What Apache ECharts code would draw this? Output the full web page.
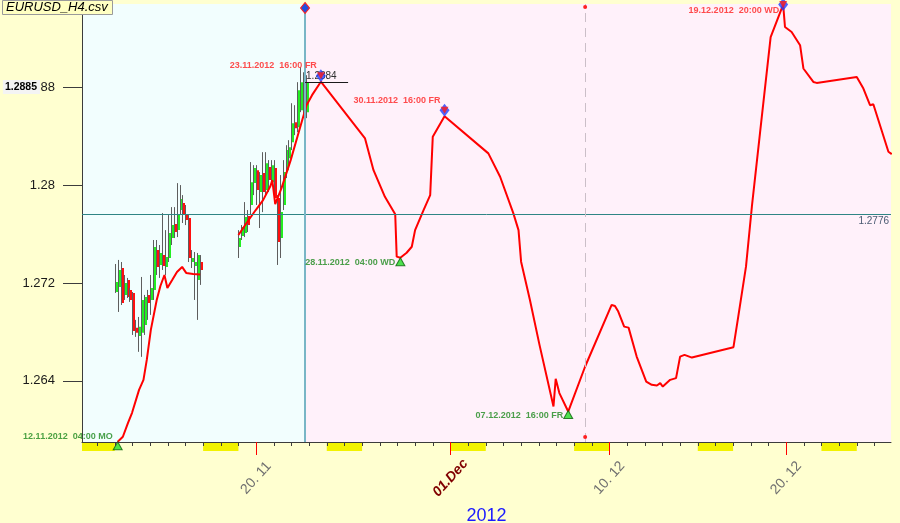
<!DOCTYPE html>
<html><head><meta charset="utf-8">
<script src="https://cdn.jsdelivr.net/npm/echarts@6/dist/echarts.min.js"></script>
<style>html,body{margin:0;padding:0;background:#ffffd0;}#c{width:900px;height:523px;}</style>
</head><body><div id="c"></div>
<script>
// ---------------- data ----------------
const chartTitle = 'EURUSD_H4.csv';
const yearLabel = '2012';
const xStart = '2012-11-10 03:30';
const xEnd = '2012-12-25 22:30';
const yMin = 1.259, yMax = 1.2948;
const yTickValues = [1.264, 1.272, 1.28, 1.288];
const xLabelDates = ['2012-11-20', '2012-12-01', '2012-12-10', '2012-12-20'];
const weekendStarts = ['2012-11-10','2012-11-17','2012-11-24','2012-12-01','2012-12-08','2012-12-15','2012-12-22'];

// H4 candles: [open, close, low, high]
const candleStart1 = '2012-11-12 00:00';
const candles1 = [
 [1.27126,1.27208,1.27118,1.27355],[1.27167,1.27306,1.26963,1.27388],[1.27322,1.27037,1.27020,1.27371],
 [1.27102,1.27200,1.27061,1.27265],[1.27224,1.27086,1.27077,1.27241],[1.27143,1.27061,1.27045,1.27159],
 [1.27118,1.26808,1.26775,1.27126],[1.26833,1.26792,1.26759,1.26898],[1.26767,1.26841,1.26637,1.26922],
 [1.26792,1.27061,1.26596,1.27249],[1.26857,1.27086,1.26775,1.27102],[1.27102,1.27037,1.26898,1.27143],
 [1.27061,1.27159,1.26939,1.27265],[1.27143,1.27494,1.27061,1.27551],[1.27469,1.27331,1.27265,1.27551],
 [1.27347,1.27445,1.27241,1.27510],[1.27428,1.27339,1.27306,1.27771],[1.27331,1.27412,1.27265,1.27632],
 [1.27404,1.27608,1.27371,1.27755],[1.27567,1.27673,1.27510,1.27820],[1.27682,1.27616,1.27567,1.27820],
 [1.27632,1.27755,1.27575,1.28016],[1.27796,1.27886,1.27755,1.28000],[1.27853,1.27763,1.27690,1.27918],
 [1.27755,1.27714,1.27673,1.27837],[1.27730,1.27404,1.27371,1.27755],[1.27371,1.27404,1.27322,1.27469],
 [1.27339,1.27371,1.27061,1.27453],[1.27224,1.27428,1.26898,1.27445],[1.27371,1.27306,1.27184,1.27428]
];
const candleStart2 = '2012-11-19 00:00';
const candles2 = [
 [1.27494,1.27567,1.27404,1.27632],[1.27584,1.27657,1.27551,1.27673],[1.27608,1.27739,1.27575,1.27861],
 [1.27747,1.27673,1.27616,1.27796],[1.27837,1.28024,1.27755,1.28188],[1.28016,1.28139,1.27918,1.28163],
 [1.28122,1.27959,1.27837,1.28163],[1.27943,1.28082,1.27649,1.28106],[1.28098,1.27943,1.27779,1.28269],
 [1.27959,1.28179,1.27918,1.28269],[1.28147,1.28041,1.27943,1.28204],[1.28024,1.28163,1.28000,1.28204],
 [1.28139,1.27894,1.27877,1.28204],[1.27894,1.27535,1.27347,1.27918],[1.27567,1.27779,1.27404,1.28082],
 [1.27837,1.28106,1.27796,1.28204],[1.28122,1.28286,1.28057,1.28326],[1.28220,1.28310,1.28163,1.28367],
 [1.28351,1.28506,1.28286,1.28669],[1.28514,1.28465,1.28408,1.28653],[1.28473,1.28775,1.28433,1.28841],
 [1.28612,1.28841,1.28596,1.28963],[1.28857,1.28588,1.28571,1.28922],[1.28596,1.28841,1.28547,1.28898]
];

// red zig-zag / projection line (null = gap)
const lineTimes = [
 '2012-11-12 04:00','2012-11-12 11:00','2012-11-12 18:00','2012-11-12 23:30','2012-11-13 09:00','2012-11-13 15:00',
 '2012-11-13 19:30','2012-11-14 01:00','2012-11-14 09:00','2012-11-14 14:00','2012-11-14 19:30','2012-11-14 23:30',
 '2012-11-15 06:00','2012-11-15 12:30','2012-11-15 19:30','2012-11-16 01:00','2012-11-16 10:30','2012-11-16 20:00',
 '2012-11-17 12:00',
 '2012-11-19 00:00','2012-11-19 12:00','2012-11-19 23:30','2012-11-20 09:30','2012-11-20 19:30','2012-11-20 22:00',
 '2012-11-21 02:00','2012-11-21 10:30','2012-11-21 23:00','2012-11-22 10:00','2012-11-22 20:30','2012-11-23 04:00',
 '2012-11-23 16:00',
 '2012-11-26 04:00','2012-11-26 15:30','2012-11-27 07:00','2012-11-27 21:00','2012-11-27 23:00','2012-11-28 04:00',
 '2012-11-28 12:30','2012-11-28 19:30','2012-11-29 00:00','2012-11-29 11:30','2012-11-29 20:30','2012-11-30 00:00',
 '2012-11-30 16:00',
 '2012-12-03 03:30','2012-12-03 19:30','2012-12-04 13:30','2012-12-04 20:30','2012-12-05 00:00','2012-12-05 12:00',
 '2012-12-06 01:00','2012-12-06 20:00','2012-12-06 23:00','2012-12-07 04:00','2012-12-07 16:00',
 '2012-12-08 15:00','2012-12-10 03:00','2012-12-10 07:30','2012-12-10 12:00','2012-12-10 20:00','2012-12-11 02:00',
 '2012-12-11 13:00','2012-12-12 02:00','2012-12-12 09:30','2012-12-12 16:30','2012-12-12 21:00','2012-12-13 00:30',
 '2012-12-13 10:30','2012-12-13 18:30','2012-12-14 00:00','2012-12-14 06:00','2012-12-14 16:00',
 '2012-12-17 00:30','2012-12-17 07:00','2012-12-17 17:30','2012-12-18 01:30','2012-12-18 12:30','2012-12-19 03:00',
 '2012-12-19 20:00','2012-12-19 22:30','2012-12-20 07:30','2012-12-20 19:00','2012-12-20 23:30','2012-12-21 13:00',
 '2012-12-21 17:30','2012-12-24 00:00','2012-12-24 09:00','2012-12-24 18:00','2012-12-24 22:30','2012-12-25 19:00',
 '2012-12-25 23:30'
];
const linePrices = [
 1.25902,1.25943,1.26057,1.26139,1.26326,1.26408,1.26571,1.26816,1.27061,1.27175,1.27265,1.27159,
 1.27224,1.27290,1.27331,1.27282,1.27273,1.27269,
 null,
 1.27592,1.27698,1.27796,1.27877,1.27992,1.28041,1.27845,1.27975,1.28204,1.28433,1.28653,1.28735,1.28845,
 1.28381,1.28122,1.27904,1.27761,1.27415,1.27406,1.27447,1.27496,1.27632,1.27796,1.27918,1.28394,1.28563,
 1.28259,1.28068,1.27769,1.27632,1.27374,1.27061,1.26694,1.26190,1.26416,1.26300,1.26149,
 1.26517,1.27020,1.27012,1.26966,1.26843,1.26835,1.26598,1.26394,1.26367,1.26362,1.26381,1.26353,
 1.26408,1.26422,1.26598,1.26612,1.26590,
 1.26675,1.26925,1.27333,1.27823,1.28422,1.29210,1.29475,1.29292,1.29251,1.29143,1.28953,1.28843,
 1.28835,1.28884,1.28789,1.28653,1.28661,1.28272,1.28253
];

// swing markers
const highTimes = ['2012-11-23 16:00','2012-11-30 16:00','2012-12-19 20:00'];
const highPrices = [1.28845, 1.28563, 1.29475];
const highLabels = ['23.11.2012  16:00 FR','30.11.2012  16:00 FR','19.12.2012  20:00 WD'];
const lowTimes = ['2012-11-12 04:00','2012-11-28 04:00','2012-12-07 16:00'];
const lowPrices = [1.25902, 1.27406, 1.26149];
const lowLabels = ['12.11.2012  04:00 MO','28.11.2012  04:00 WD','07.12.2012  16:00 FR'];

const nowTime = '2012-11-22 18:30';
const cursorTime = '2012-12-08 15:00';
const refLevel = 1.2776;
const lastHighFrom = '2012-11-22 18:30', lastHighTo = '2012-11-25 05:00', lastHighValue = 1.2884;
const priceBoxValue = 1.2885;

// ---------------- styling (not data) ----------------
const highSymbolDy = [-6, -6, 0];
const highLabelDy = [-10, -10, 6];
const lowSymbolDy = [4, 4, 3];
const lowLabelDy = [-9, 1, 1];
const markerFont = "Arial,'Liberation Sans',sans-serif";

// ---------------- build ----------------
const H = 3600000, DAY = 86400000;
function ts(s){
  const parts = s.split(' ');
  const d = parts[0].split('-').map(Number);
  const t = (parts[1] || '00:00').split(':').map(Number);
  return Date.UTC(d[0], d[1]-1, d[2], t[0], t[1]);
}
const xMin = ts(xStart), xMax = ts(xEnd);
const nowTs = ts(nowTime), cursorTs = ts(cursorTime);
const dayTicks = [];
for (let t = Math.ceil(xMin / DAY) * DAY; t <= xMax; t += DAY) dayTicks.push(t);
const labelTs = xLabelDates.map(ts);
const monNames = ['Jan','Feb','Mar','Apr','May','Jun','Jul','Aug','Sep','Oct','Nov','Dec'];
const pad = n => (n < 10 ? '0' : '') + n;

const candleData = [];
[[candleStart1, candles1], [candleStart2, candles2]].forEach(([s, arr]) => {
  const t0 = ts(s);
  arr.forEach((c, i) => candleData.push([t0 + i*4*H, c[0], c[1], c[2], c[3]]));
});
const lineData = lineTimes.map((t, i) => [ts(t), linePrices[i] === null ? '-' : linePrices[i]]);

function clipTo(rect, cs){
  return echarts.graphic.clipRectByRect(rect, {x: cs.x, y: cs.y, width: cs.width, height: cs.height});
}
function renderBg(params, api){
  const a = api.coord([api.value(0), yMax]);
  const b = api.coord([api.value(1), yMin]);
  const r = clipTo({x: a[0], y: a[1], width: b[0]-a[0], height: b[1]-a[1]}, params.coordSys);
  return r && {type: 'rect', shape: r, style: {fill: api.value(2) === 0 ? '#f2fefe' : '#fff1fa'}};
}
function renderWeekend(params, api){
  const a = api.coord([api.value(0), 1]);
  const b = api.coord([api.value(1), 0]);
  const r = clipTo({x: a[0], y: a[1], width: b[0]-a[0], height: b[1]-a[1]}, params.coordSys);
  return r && {type: 'rect', shape: r, style: {fill: '#f2f200'}};
}
function renderCandle(params, api){
  const t = api.value(0), o = api.value(1), c = api.value(2), l = api.value(3), h = api.value(4);
  const po = api.coord([t, o]), pc = api.coord([t, c]), pl = api.coord([t, l]), ph = api.coord([t, h]);
  const x = Math.round(po[0]);
  const top = Math.min(po[1], pc[1]), bot = Math.max(po[1], pc[1]);
  return {type: 'group', children: [
    {type: 'line', shape: {x1: x + 0.5, y1: ph[1], x2: x + 0.5, y2: pl[1]}, style: {stroke: '#5e5e5e', lineWidth: 1}},
    {type: 'rect', shape: {x: x + 1, y: top, width: 2, height: Math.max(1, bot - top)}, style: {fill: c >= o ? '#22ee22' : '#ff1010'}}
  ]};
}

const highTri = highTimes.map((t, i) => ({
  value: [ts(t), highPrices[i]], name: highLabels[i],
  symbolOffset: [0, highSymbolDy[i]], label: {offset: [0, highLabelDy[i]]}
}));
const highDia = highTimes.map((t, i) => ({value: [ts(t), highPrices[i]], symbolOffset: [0, highSymbolDy[i]]}));
const lowTri = lowTimes.map((t, i) => ({
  value: [ts(t), lowPrices[i]], name: lowLabels[i],
  symbolOffset: [0, lowSymbolDy[i]], label: {offset: [0, lowLabelDy[i]]}
}));

const chart = echarts.init(document.getElementById('c'), null, {renderer: 'canvas'});
chart.setOption({
  animation: false,
  backgroundColor: '#ffffd0',
  title: {
    text: chartTitle, left: 2, top: 0, padding: [1, 5, 1, 4],
    backgroundColor: '#ffffc2', borderColor: '#9a9a9a', borderWidth: 1,
    textStyle: {fontSize: 13, fontStyle: 'italic', fontWeight: 'normal', color: '#000', fontFamily: 'Arial'}
  },
  grid: [
    {left: 82, right: 9, top: 4, bottom: 81, containLabel: false, outerBoundsMode: 'none'},
    {left: 82, right: 9, top: 443, height: 8, containLabel: false, outerBoundsMode: 'none'}
  ],
  xAxis: [
    {type: 'value', gridIndex: 0, position: 'bottom', min: xMin, max: xMax, z: 10,
     axisLine: {show: true, onZero: false, lineStyle: {color: '#3c3c3c'}},
     axisTick: {show: true, length: 4, customValues: dayTicks, lineStyle: {color: '#3c3c3c'}},
     axisLabel: {show: false}, splitLine: {show: false}},
    {type: 'value', gridIndex: 0, position: 'bottom', min: xMin, max: xMax, z: 10,
     axisLine: {show: false, onZero: false},
     axisTick: {show: true, length: 13, customValues: labelTs, lineStyle: {color: '#ff0000'}},
     axisLabel: {
       show: true, customValues: labelTs, rotate: 48, align: 'center', verticalAlign: 'middle', margin: 36,
       color: '#707070', fontSize: 14, fontFamily: 'Arial',
       formatter: v => {
         const d = new Date(v);
         if (d.getUTCDate() === 1) return '{b|01.' + monNames[d.getUTCMonth()] + '}';
         return pad(d.getUTCDate()) + '. ' + pad(d.getUTCMonth() + 1);
       },
       rich: {b: {color: '#800000', fontStyle: 'italic', fontWeight: 'bold', fontSize: 14, fontFamily: 'Arial'}}
     },
     splitLine: {show: false},
     name: yearLabel, nameLocation: 'middle', nameGap: 63,
     nameTextStyle: {color: '#1a1aff', fontSize: 18, fontFamily: 'Arial'}},
    {type: 'value', gridIndex: 1, min: xMin, max: xMax, show: false}
  ],
  yAxis: [
    {type: 'value', gridIndex: 0, min: yMin, max: yMax, z: 3,
     axisLine: {show: true, lineStyle: {color: '#3c3c3c'}},
     axisTick: {show: true, length: 19, customValues: yTickValues, lineStyle: {color: '#3c3c3c'}},
     axisLabel: {show: true, customValues: yTickValues, margin: 27, fontSize: 13, color: '#1a1a1a', fontFamily: 'Arial',
       verticalAlign: 'middle', padding: [0, 0, 8, 0],
       formatter: v => String(parseFloat(Number(v).toFixed(4)))},
     splitLine: {show: false}},
    {type: 'value', gridIndex: 1, min: 0, max: 1, show: false}
  ],
  series: [
    {type: 'custom', name: 'bg', xAxisIndex: 0, yAxisIndex: 0, z: 0, silent: true,
     data: [[xMin, nowTs, 0], [nowTs, xMax, 1]], encode: {x: [0, 1], y: 2}, renderItem: renderBg},
    {type: 'custom', name: 'weekend', xAxisIndex: 2, yAxisIndex: 1, z: 0, silent: true,
     data: weekendStarts.map(s => [ts(s), ts(s) + 2*DAY]), encode: {x: [0, 1]}, renderItem: renderWeekend},
    {type: 'custom', name: 'H4', xAxisIndex: 0, yAxisIndex: 0, z: 3,
     data: candleData, encode: {x: 0, y: [1, 2, 3, 4]}, renderItem: renderCandle},
    {type: 'line', name: 'zigzag', xAxisIndex: 0, yAxisIndex: 0, z: 4, data: lineData,
     showSymbol: false, symbol: 'none', connectNulls: false,
     lineStyle: {color: '#ff0000', width: 2}, itemStyle: {color: '#ff0000'},
     markLine: {
       silent: true, symbol: 'none', animation: false, precision: 6,
       data: [
         {yAxis: refLevel, lineStyle: {color: '#2f8585', width: 1, type: 'solid'},
          label: {show: true, formatter: String(refLevel), position: 'insideEndBottom', color: '#4a5a72', fontSize: 10, fontFamily: 'Arial', distance: 2}},
         {xAxis: nowTs, lineStyle: {color: '#79b6c6', width: 2, type: 'solid'}, label: {show: false}},
         {xAxis: cursorTs, lineStyle: {color: '#cbbfc8', width: 1, type: [9, 6]}, label: {show: false}},
         [{coord: [ts(lastHighFrom), lastHighValue], lineStyle: {color: '#1a1a1a', width: 1, type: 'solid'},
           label: {show: true, formatter: String(lastHighValue), position: 'insideStartTop', color: '#303030', fontSize: 10, fontFamily: 'Arial', distance: 1}},
          {coord: [ts(lastHighTo), lastHighValue]}],
         {yAxis: priceBoxValue, lineStyle: {color: 'rgba(0,0,0,0)', width: 0},
          label: {show: true, formatter: String(priceBoxValue), position: 'start', distance: 42, offset: [0, 6],
                  backgroundColor: '#f4f4f4', padding: [2, 3, 1, 2], color: '#000', fontWeight: 'bold', fontSize: 10.5, fontFamily: 'Arial'}}
       ]
     },
     markPoint: {
       silent: true, label: {show: false}, animation: false,
       data: [
         {coord: [nowTs, yMax], symbol: 'diamond', symbolSize: [9, 11], symbolOffset: [0, 4],
          itemStyle: {color: '#2050e0', borderColor: '#ff2020', borderWidth: 1}},
         {coord: [cursorTs, yMax], symbol: 'circle', symbolSize: 4, symbolOffset: [0, 3], itemStyle: {color: '#ff2020'}},
         {coord: [cursorTs, yMin], symbol: 'circle', symbolSize: 4, symbolOffset: [0, -5], itemStyle: {color: '#ff2020'}}
       ]
     }},
    {type: 'scatter', name: 'highDia', xAxisIndex: 0, yAxisIndex: 0, z: 6, clip: false, silent: true,
     data: highDia, symbol: 'diamond', symbolSize: [10, 13], itemStyle: {color: '#2040ff'}},
    {type: 'scatter', name: 'highs', xAxisIndex: 0, yAxisIndex: 0, z: 7, clip: false, silent: true,
     data: highTri, symbol: 'path://M0,0 L10,0 L5,8 Z', symbolSize: [8, 7], itemStyle: {color: '#ff1a1a'},
     label: {show: true, position: 'left', distance: 0, formatter: p => p.name, color: '#ff2020',
             fontWeight: 'bold', fontSize: 9, fontFamily: markerFont}},
    {type: 'scatter', name: 'lows', xAxisIndex: 0, yAxisIndex: 0, z: 7, clip: false, silent: true,
     data: lowTri, symbol: 'triangle', symbolSize: [9, 8], itemStyle: {color: '#22dd22', borderColor: '#0a600a', borderWidth: 1},
     label: {show: true, position: 'left', distance: 0, formatter: p => p.name, color: '#1e8a1e',
             fontWeight: 'bold', fontSize: 9, fontFamily: markerFont}}
  ]
});
</script>
</body></html>
